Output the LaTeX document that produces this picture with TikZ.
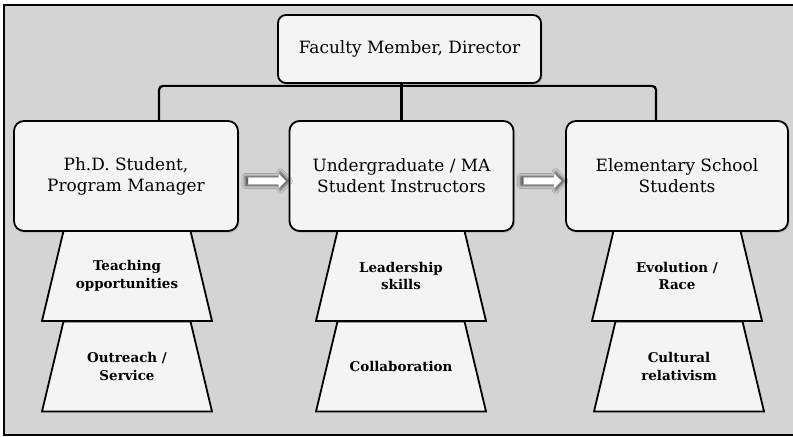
\documentclass[tikz,border=0pt]{standalone}
\usepackage{fontspec}
\setmainfont{DejaVu Serif}
\usepackage{tikz}
\usetikzlibrary{shapes.arrows,shadows,shadows.blur,positioning}

\definecolor{panelgray}{gray}{0.83}
\definecolor{boxwhite}{gray}{0.955}

\tikzset{
  role/.style={draw=black, line width=1.8bp, fill=boxwhite, rounded corners=10bp,
    align=center, minimum width=224bp, minimum height=110bp,
    font=\fontsize{17}{21}\selectfont,
    drop shadow={opacity=0.25, shadow xshift=1.5bp, shadow yshift=-2bp}},
  skill/.style={minimum width=172bp, minimum height=92bp, inner sep=0pt, align=center,
    font=\bfseries\fontsize{13.5}{18}\selectfont,
    path picture={
      \draw[line width=1.8bp, fill=boxwhite]
        ([xshift=22.5bp, yshift=-1bp]path picture bounding box.north west)
        -- ([xshift=-22.5bp, yshift=-1bp]path picture bounding box.north east)
        -- ([xshift=-1bp, yshift=1bp]path picture bounding box.south east)
        -- ([xshift=1bp, yshift=1bp]path picture bounding box.south west) -- cycle;
    }},
  link/.style={line width=2.2bp, rounded corners=4bp},
  flow/.style={single arrow, fill=white, draw=gray!70, line width=0.4bp,
    inner xsep=0pt, inner ysep=3.5bp, single arrow head extend=4bp,
    minimum height=38bp,
    blur shadow={shadow xshift=0bp, shadow yshift=0bp, shadow scale=1.15,
      shadow blur radius=3bp, shadow opacity=70}}
}

\begin{document}
\begin{tikzpicture}[x=1bp, y=-1bp]
  \useasboundingbox (0,0) rectangle (793,437);
  \fill[panelgray] (4,5) rectangle (793,435);
  \draw[line width=1.2bp] (793,5) -- (4,5) -- (4,435) -- (793,435);

  % top
  \node[role, minimum width=263bp, minimum height=68bp, rounded corners=8bp] (top) at (409.5,49) {Faculty Member, Director};

  % second row
  \node[role] (phd) at (126,176) {Ph.D. Student,\\Program Manager};
  \node[role] (und) at (401.5,176) {Undergraduate / MA\\Student Instructors};
  \node[role, minimum width=222bp] (elem) at (677,176) {Elementary School\\Students};

  % tree lines
  \draw[link] ([xshift=33bp]phd.north) |- ([yshift=-2bp]top.south) -| ([xshift=-21bp]elem.north);
  \draw[link] (top.south -| und.north) -- (und.north);

  % arrows
  \node[flow, right=9bp of phd, yshift=-5bp] (a1) {};
  \node[flow, right=9bp of und, yshift=-5bp] (a2) {};

  % skills
  \node[skill] (phdA) at (127,276) {Teaching\\opportunities};
  \node[skill] (phdB) at (127,366.5) {Outreach /\\Service};
  \node[skill] (undA) at (401,276) {Leadership\\skills};
  \node[skill] (undB) at (401,366.5) {Collaboration};
  \node[skill] (elemA) at (677,276) {Evolution /\\Race};
  \node[skill] (elemB) at (679,366.5) {Cultural\\relativism};
\end{tikzpicture}
\end{document}
